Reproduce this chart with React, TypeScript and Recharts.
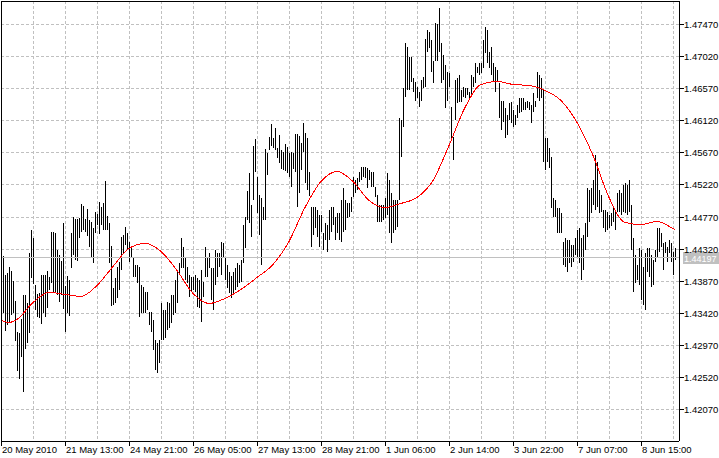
import React from 'react';
import { ComposedChart, Bar, Line, XAxis, YAxis, CartesianGrid, ReferenceLine } from 'recharts';

const highs = [
  1.44189, 1.44217, 1.43950, 1.43978, 1.44062, 1.44006, 1.43866, 1.43585, 1.43151, 1.43137,
  1.43333, 1.43670, 1.43670, 1.43557, 1.44259, 1.44581, 1.44469, 1.43810, 1.43684, 1.43698,
  1.43950, 1.43950, 1.43950, 1.44006, 1.43922, 1.44553, 1.44553, 1.44539, 1.44301, 1.44231,
  1.44146, 1.44679, 1.43796, 1.43936, 1.43880, 1.44539, 1.44764, 1.44736, 1.44736, 1.44750,
  1.44946, 1.44918, 1.44736, 1.44876, 1.44721, 1.44693, 1.44609, 1.44834, 1.44806, 1.44974,
  1.44904, 1.44960, 1.45268, 1.44778, 1.44679, 1.44357, 1.43768, 1.43908, 1.44062, 1.44132,
  1.44483, 1.44511, 1.44623, 1.44539, 1.44413, 1.44343, 1.44203, 1.44090, 1.44090, 1.44062,
  1.43810, 1.43782, 1.43712, 1.43712, 1.43431, 1.43431, 1.43319, 1.43038, 1.42996, 1.43038,
  1.43557, 1.43459, 1.43459, 1.43571, 1.43557, 1.43670, 1.43670, 1.43880, 1.44020, 1.44118,
  1.44469, 1.44343, 1.44203, 1.44062, 1.43950, 1.43922, 1.43922, 1.43950, 1.43908, 1.43880,
  1.44020, 1.43852, 1.44343, 1.44203, 1.44259, 1.44048, 1.44048, 1.44301, 1.44259, 1.44259,
  1.44413, 1.44399, 1.44203, 1.44090, 1.43992, 1.43936, 1.43992, 1.44048, 1.44118, 1.44090,
  1.44160, 1.44651, 1.44764, 1.45128, 1.45381, 1.44932, 1.45759, 1.45858, 1.45325, 1.45072,
  1.45030, 1.44904, 1.45717, 1.45661, 1.45886, 1.46068, 1.45872, 1.46012, 1.45731, 1.45914,
  1.45703, 1.45675, 1.45787, 1.45745, 1.45661, 1.45675, 1.45661, 1.45928, 1.45928, 1.45900,
  1.45801, 1.46082, 1.45942, 1.45872, 1.45395, 1.44904, 1.44904, 1.44904, 1.44862, 1.44792,
  1.44792, 1.44539, 1.44679, 1.44651, 1.44862, 1.44904, 1.44904, 1.44764, 1.44820, 1.44820,
  1.45002, 1.45170, 1.45002, 1.44960, 1.44960, 1.45044, 1.45325, 1.45282, 1.45311, 1.45395,
  1.45465, 1.45465, 1.45465, 1.45451, 1.45423, 1.45395, 1.45395, 1.45184, 1.45072, 1.44932,
  1.44932, 1.44932, 1.45030, 1.45381, 1.45282, 1.45100, 1.45002, 1.45002, 1.45002, 1.46152,
  1.46124, 1.46573, 1.47204, 1.47148, 1.47008, 1.47008, 1.46713, 1.46657, 1.46587, 1.46517,
  1.46685, 1.46727, 1.47260, 1.47386, 1.47358, 1.47246, 1.46965, 1.47498, 1.47484, 1.47695,
  1.47204, 1.47036, 1.46895, 1.46797, 1.46783, 1.46306, 1.45886, 1.46685, 1.46713, 1.46755,
  1.46545, 1.46587, 1.46573, 1.46573, 1.46517, 1.46755, 1.46727, 1.46923, 1.46867, 1.46937,
  1.46937, 1.47246, 1.47428, 1.47386, 1.47078, 1.47148, 1.46937, 1.46867, 1.46825, 1.46643,
  1.46404, 1.46404, 1.46292, 1.46194, 1.46362, 1.46376, 1.46264, 1.46194, 1.46334, 1.46433,
  1.46433, 1.46433, 1.46376, 1.46404, 1.46376, 1.46334, 1.46503, 1.46404, 1.46797, 1.46755,
  1.46713, 1.46545, 1.45872, 1.45872, 1.45731, 1.45605, 1.45030, 1.45002, 1.44890, 1.44890,
  1.44820, 1.44413, 1.44469, 1.44441, 1.44441, 1.44371, 1.44371, 1.44469, 1.44581, 1.44609,
  1.44469, 1.44511, 1.44679, 1.45170, 1.45142, 1.45170, 1.45282, 1.45633, 1.45535, 1.45142,
  1.45072, 1.44862, 1.44862, 1.44834, 1.44792, 1.44820, 1.44890, 1.44834, 1.45100, 1.45142,
  1.45100, 1.45212, 1.45240, 1.45212, 1.45282, 1.44932, 1.44469, 1.44231, 1.44090, 1.44329,
  1.44301, 1.44062, 1.44259, 1.44329, 1.44329, 1.44231, 1.44160, 1.44301, 1.44609, 1.44609,
  1.44539, 1.44399, 1.44413, 1.44343, 1.44441, 1.44399, 1.44273, 1.44329,
];

const lows = [
  1.43459, 1.43417, 1.43165, 1.43249, 1.43291, 1.43389, 1.43417, 1.43024, 1.42604, 1.42492,
  1.42800, 1.42309, 1.42912, 1.42996, 1.43137, 1.43908, 1.43824, 1.43459, 1.43361, 1.43347,
  1.43263, 1.43417, 1.43361, 1.43487, 1.43740, 1.43838, 1.43712, 1.43698, 1.43670, 1.43571,
  1.43670, 1.43473, 1.43151, 1.43417, 1.43375, 1.44048, 1.44231, 1.44160, 1.44146, 1.44469,
  1.44553, 1.44581, 1.44553, 1.44497, 1.44343, 1.44189, 1.44118, 1.44539, 1.44651, 1.44525,
  1.44651, 1.44581, 1.44581, 1.44581, 1.44118, 1.43515, 1.43529, 1.43557, 1.43628, 1.43740,
  1.44020, 1.44259, 1.44371, 1.44301, 1.44132, 1.44203, 1.43922, 1.43922, 1.43838, 1.43361,
  1.43417, 1.43417, 1.43417, 1.43459, 1.43249, 1.43151, 1.42898, 1.42618, 1.42576, 1.42716,
  1.43038, 1.43038, 1.43067, 1.43179, 1.43207, 1.43277, 1.43389, 1.43417, 1.43557, 1.43978,
  1.44048, 1.44048, 1.43880, 1.43838, 1.43642, 1.43712, 1.43740, 1.43712, 1.43501, 1.43487,
  1.43291, 1.43642, 1.43922, 1.43922, 1.44048, 1.43599, 1.43459, 1.43810, 1.43922, 1.44062,
  1.43950, 1.44203, 1.43880, 1.43768, 1.43698, 1.43628, 1.43698, 1.43740, 1.43782, 1.43838,
  1.43852, 1.44118, 1.44329, 1.44721, 1.44679, 1.44483, 1.45002, 1.45395, 1.44820, 1.44511,
  1.44090, 1.44721, 1.44721, 1.45353, 1.45703, 1.45759, 1.45731, 1.45703, 1.45591, 1.45521,
  1.45437, 1.45423, 1.45409, 1.45381, 1.45325, 1.45184, 1.45437, 1.45395, 1.44904, 1.45100,
  1.45423, 1.45675, 1.45240, 1.45142, 1.45058, 1.44343, 1.44511, 1.44609, 1.44483, 1.44343,
  1.44553, 1.44301, 1.44441, 1.44273, 1.44441, 1.44553, 1.44651, 1.44441, 1.44539, 1.44441,
  1.44413, 1.44553, 1.44581, 1.44750, 1.44764, 1.44834, 1.45044, 1.45100, 1.45142, 1.45254,
  1.45282, 1.45325, 1.45311, 1.45170, 1.45282, 1.45184, 1.45184, 1.45044, 1.44693, 1.44693,
  1.44693, 1.44721, 1.44750, 1.44792, 1.44539, 1.44399, 1.44539, 1.44581, 1.44623, 1.45002,
  1.45605, 1.46026, 1.46447, 1.46545, 1.46545, 1.46657, 1.46517, 1.46404, 1.46433, 1.46306,
  1.46404, 1.46573, 1.46587, 1.47078, 1.47134, 1.46797, 1.46643, 1.46965, 1.46965, 1.47078,
  1.46643, 1.46685, 1.46292, 1.46404, 1.46587, 1.45843, 1.45563, 1.46124, 1.46362, 1.46376,
  1.46376, 1.46447, 1.46433, 1.46475, 1.46433, 1.46475, 1.46587, 1.46643, 1.46783, 1.46755,
  1.46783, 1.46853, 1.47064, 1.46923, 1.46853, 1.46755, 1.46657, 1.46517, 1.46657, 1.46152,
  1.45984, 1.46096, 1.45872, 1.45914, 1.46124, 1.46082, 1.46026, 1.46054, 1.46152, 1.46222,
  1.46236, 1.46264, 1.46264, 1.46292, 1.46264, 1.46082, 1.46236, 1.46306, 1.46433, 1.46404,
  1.46433, 1.45535, 1.45423, 1.45535, 1.45451, 1.44890, 1.44764, 1.44764, 1.44539, 1.44539,
  1.44539, 1.44090, 1.44062, 1.43992, 1.44118, 1.44062, 1.44132, 1.44231, 1.44203, 1.44118,
  1.43880, 1.44020, 1.44301, 1.44483, 1.44693, 1.44820, 1.44932, 1.44862, 1.44904, 1.44820,
  1.44834, 1.44609, 1.44553, 1.44581, 1.44609, 1.44637, 1.44693, 1.44581, 1.44834, 1.44834,
  1.44792, 1.44834, 1.44820, 1.44792, 1.44834, 1.44301, 1.43712, 1.43838, 1.43880, 1.43810,
  1.43599, 1.43529, 1.43459, 1.43992, 1.43922, 1.43782, 1.43810, 1.44132, 1.44189, 1.44273,
  1.44343, 1.44020, 1.44259, 1.44132, 1.44259, 1.44132, 1.43950, 1.44160,
];

// moving average, read at every 8th bar
const maIndex = [
  0, 4, 8, 16, 24, 32, 40, 48, 56, 64, 72, 80, 88, 96, 104, 112, 120, 128, 136, 144,
  152, 160, 168, 176, 184, 192, 200, 208, 216, 224, 232, 240, 248, 256, 264, 272, 280, 288, 296, 304,
  312, 320, 328, 336, 337,
];
const maValue = [
  1.43319, 1.43291, 1.43333, 1.43571, 1.43712, 1.43684, 1.43656, 1.43810, 1.44076, 1.44329,
  1.44399, 1.44287, 1.44020, 1.43698, 1.43557, 1.43628, 1.43754, 1.43922, 1.44104, 1.44427,
  1.44904, 1.45268, 1.45409, 1.45268, 1.45002, 1.44904, 1.44960, 1.45044, 1.45282, 1.45773,
  1.46306, 1.46629, 1.46671, 1.46629, 1.46615, 1.46545, 1.46404, 1.46096, 1.45633, 1.45044,
  1.44693, 1.44665, 1.44707, 1.44609, 1.44595,
];

const xLabels = [
  '20 May 2010', '21 May 13:00', '24 May 21:00', '26 May 05:00', '27 May 13:00', '28 May 21:00',
  '1 Jun 06:00', '2 Jun 14:00', '3 Jun 22:00', '7 Jun 07:00', '8 Jun 15:00',
];
const xLabelIdx = [0, 32, 64, 96, 128, 160, 192, 224, 256, 288, 320];
const xGridIdx = [0, 16, 32, 48, 64, 80, 96, 112, 128, 144, 160, 176, 192, 208, 224, 240, 256, 272, 288, 304, 320, 336];
const yTicks = [1.4207, 1.4252, 1.4297, 1.4342, 1.4387, 1.4432, 1.4477, 1.4522, 1.4567, 1.4612, 1.4657, 1.4702, 1.4747];
const lastPrice = 1.44197;

const FONT = '"Liberation Sans", Arial, sans-serif';
const GRID = '#c0c0c0';

const maMap = new Map<number, number>(maIndex.map((k, j) => [k, maValue[j]]));
const data = highs.map((h, i) => ({
  i,
  range: [lows[i], h],
  ma: maMap.has(i) ? maMap.get(i) : null,
}));

const BarShape = (props: any) => {
  const { x, y, width, height } = props;
  if (x == null || y == null) return null;
  const cx = Math.round(x + width / 2);
  const top = Math.round(Math.min(y, y + height));
  const bot = Math.round(Math.max(y, y + height));
  return <rect x={cx} y={top} width={1} height={Math.max(1, bot - top)} fill="#000" shapeRendering="crispEdges" />;
};

const XTick = (props: any) => {
  const { x, y, payload } = props;
  const k = xLabelIdx.indexOf(payload.value);
  if (k < 0) return <g />;
  const px = Math.round(x) + 0.5;
  return (
    <g>
      <line x1={px} x2={px} y1={y} y2={y + 5} stroke="#000" />
      <text x={Math.round(x) + 1} y={y + 11.5} fontSize={9.5} fontFamily={FONT} fill="#000" textAnchor="start">
        {xLabels[k]}
      </text>
    </g>
  );
};

const YTick = (props: any) => {
  const { x, y, payload } = props;
  const py = Math.floor(y) + 0.5;
  return (
    <g>
      <line x1={x} x2={x + 5} y1={py} y2={py} stroke="#000" />
      <text x={x + 5} y={py + 3.5} fontSize={9.5} fontFamily={FONT} fill="#000" textAnchor="start">
        {Number(payload.value).toFixed(5)}
      </text>
    </g>
  );
};

const PriceTag = (props: any) => {
  const vb = props.viewBox || {};
  const right = (vb.x || 0) + (vb.width || 0);
  const cy = Math.floor(vb.y || 0);
  return (
    <g>
      <rect x={right + 4} y={cy - 5} width={36} height={12} fill="#c0c0c0" />
      <text x={right + 5} y={cy + 4.5} fontSize={9} fontFamily={FONT} fill="#fff" textAnchor="start">
        {lastPrice.toFixed(5)}
      </text>
    </g>
  );
};

const hLine = (p: any) => {
  const yy = Math.floor(p.y1) + 0.5;
  return <line key={p.key} x1={p.x1} x2={p.x2} y1={yy} y2={yy} stroke={GRID} strokeDasharray="3 2" />;
};
const vLine = (p: any) => {
  const xx = Math.round(p.x1) + 0.5;
  return <line key={p.key} x1={xx} x2={xx} y1={p.y1} y2={p.y2} stroke={GRID} strokeDasharray="3 2" />;
};

export default function App() {
  return (
    <div style={{ width: 719, height: 458, background: '#fff' }}>
      <style>{'body{margin:0;background:#fff}'}</style>
      <ComposedChart width={719} height={458} data={data} margin={{ top: 0, right: 0, bottom: 0, left: 0 }}>
        <CartesianGrid horizontal={hLine} vertical={vLine} />
        <XAxis
          dataKey="i"
          type="number"
          domain={[0, 339]}
          allowDataOverflow
          ticks={xGridIdx}
          interval={0}
          height={17}
          tickSize={0}
          tickMargin={0}
          tickLine={false}
          axisLine={{ stroke: '#000', shapeRendering: 'crispEdges' } as any}
          tick={<XTick />}
        />
        <XAxis xAxisId="top" orientation="top" type="number" domain={[0, 1]} height={1} tick={false} tickLine={false}
          axisLine={{ stroke: '#000', shapeRendering: 'crispEdges' } as any} />
        <YAxis
          orientation="right"
          type="number"
          domain={[1.416282, 1.477996]}
          allowDataOverflow
          ticks={yTicks}
          interval={0}
          width={40}
          tickSize={0}
          tickMargin={0}
          tickLine={false}
          axisLine={{ stroke: '#000', shapeRendering: 'crispEdges' } as any}
          tick={<YTick />}
        />
        <YAxis yAxisId="left" orientation="left" type="number" domain={[0, 1]} width={1} tick={false} tickLine={false}
          axisLine={{ stroke: '#000', shapeRendering: 'crispEdges' } as any} />
        <ReferenceLine y={lastPrice} stroke="#c0c0c0" shapeRendering="crispEdges" label={<PriceTag />} />
        <Bar dataKey="range" barSize={1} shape={<BarShape />} isAnimationActive={false} />
        <Line dataKey="ma" type="monotone" stroke="#ff0000" strokeWidth={1} dot={false} activeDot={false}
          connectNulls isAnimationActive={false} shapeRendering="crispEdges" />
      </ComposedChart>
    </div>
  );
}
